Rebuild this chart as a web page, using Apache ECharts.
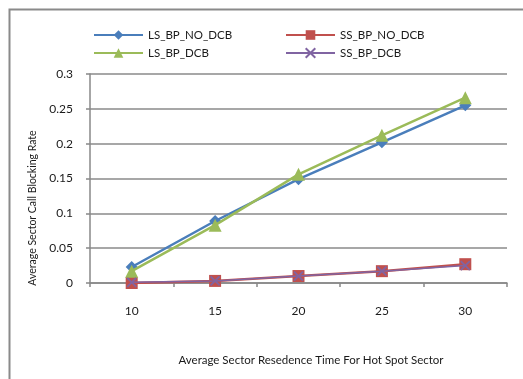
<!DOCTYPE html>
<html><head><meta charset="utf-8">
<script src="https://cdn.jsdelivr.net/npm/echarts@6/dist/echarts.min.js"></script>
<style>html,body{margin:0;padding:0;background:#fff}#c{width:523px;height:379px}</style>
</head><body><div id="c"></div>
<script>
var categories = ['10', '15', '20', '25', '30'];
var lsNoDcb = [0.023, 0.089, 0.149, 0.202, 0.255];
var ssNoDcb = [0.0, 0.003, 0.010, 0.017, 0.027];
var lsDcb = [0.017, 0.083, 0.156, 0.212, 0.266];
var ssDcb = [0.001, 0.003, 0.010, 0.017, 0.025];
var yTicks = {min: 0, max: 0.3, interval: 0.05};
var xTitle = 'Average Sector Resedence Time For Hot Spot Sector';
var yTitle = 'Average Sector Call Blocking Rate';

var FONT = 'Lato';
var chart = echarts.init(document.getElementById('c'), null, {renderer: 'canvas'});
var xPath = 'path://M0,0L10,10M10,0L0,10';
chart.setOption({
  animation: false,
  backgroundColor: '#fff',
  textStyle: {fontFamily: FONT},
  grid: {left: 90, top: 74, right: 16, bottom: 96},
  legend: [{
    left: 88, top: 24, orient: 'vertical', itemGap: 6, itemWidth: 49, itemHeight: 12,
    textStyle: {fontFamily: FONT, fontSize: 11.5, color: '#1a1a1a'},
    data: ['LS_BP_NO_DCB', 'LS_BP_DCB']
  }, {
    left: 280, top: 24, orient: 'vertical', itemGap: 6, itemWidth: 49, itemHeight: 12,
    textStyle: {fontFamily: FONT, fontSize: 11.5, color: '#1a1a1a'},
    data: ['SS_BP_NO_DCB', 'SS_BP_DCB']
  }],
  xAxis: {
    type: 'category', data: categories, boundaryGap: true,
    axisLine: {lineStyle: {color: '#888', width: 1.5}},
    axisTick: {show: true, length: 4, lineStyle: {color: '#888', width: 1.5}},
    axisLabel: {fontFamily: FONT, fontSize: 12, color: '#1a1a1a', margin: 22}
  },
  yAxis: {
    type: 'value', min: yTicks.min, max: yTicks.max, interval: yTicks.interval,
    axisLine: {show: true, lineStyle: {color: '#888', width: 1.5}},
    axisTick: {show: true, length: 4, lineStyle: {color: '#888', width: 1.5}},
    splitLine: {lineStyle: {color: '#8a8a8a', width: 1.5}},
    axisLabel: {fontFamily: FONT, fontSize: 12, color: '#1a1a1a', margin: 17}
  },
  graphic: [
    {type: 'rect', left: 7, top: 7, shape: {width: 700, height: 600}, style: {fill: 'none', stroke: '#8a8a8a', lineWidth: 2}, silent: true},
    {type: 'text', x: 311, y: 360, style: {text: xTitle, fontFamily: FONT, fontSize: 11.5, fill: '#1a1a1a', textAlign: 'center', textVerticalAlign: 'middle'}},
    {type: 'text', x: 33, y: 208, rotation: Math.PI / 2, style: {text: yTitle, fontFamily: FONT, fontSize: 10.5, fill: '#1a1a1a', textAlign: 'center', textVerticalAlign: 'middle'}}
  ],
  series: [
    {name: 'LS_BP_NO_DCB', type: 'line', data: lsNoDcb, symbol: 'diamond', symbolSize: 12,
     lineStyle: {color: '#4A7EBB', width: 2.5}, itemStyle: {color: '#4A7EBB'}, z: 3},
    {name: 'SS_BP_NO_DCB', type: 'line', data: ssNoDcb, symbol: 'rect', symbolSize: 12,
     lineStyle: {color: '#C0504D', width: 2.5}, itemStyle: {color: '#C0504D'}, z: 2},
    {name: 'LS_BP_DCB', type: 'line', data: lsDcb, symbol: 'triangle', symbolSize: 13,
     lineStyle: {color: '#9BBB59', width: 2.5}, itemStyle: {color: '#9BBB59'}, z: 4},
    {name: 'SS_BP_DCB', type: 'line', data: ssDcb, symbol: xPath, symbolSize: 9,
     lineStyle: {color: '#8064A2', width: 1.5}, itemStyle: {color: 'rgba(0,0,0,0)', borderColor: '#8064A2', borderWidth: 1.8}, z: 5}
  ]
});
</script></body></html>
